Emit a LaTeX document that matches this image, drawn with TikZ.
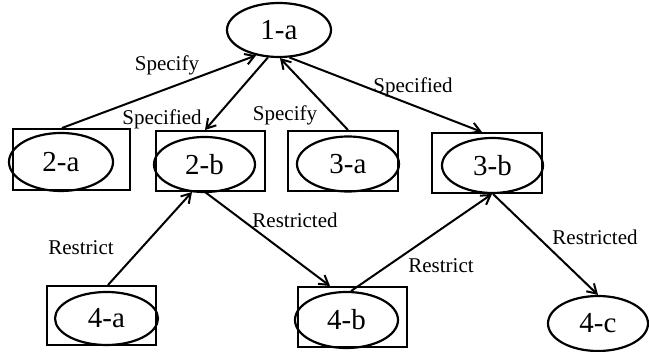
\documentclass[tikz,border=0pt]{standalone}
\usepackage{fontspec}
\setmainfont{Liberation Serif}
\usetikzlibrary{arrows.meta,shapes.geometric}
\begin{document}
\begin{tikzpicture}[x=1pt,y=-1pt,
  oval/.style={draw, ellipse, line width=2.2pt, inner sep=0pt,
    minimum width=101pt, minimum height=55pt,
    font=\fontsize{29}{32}\selectfont},
  frame/.style={draw, rectangle, line width=2pt, inner sep=0pt,
    minimum width=110pt, minimum height=60pt},
  link/.style={line width=2pt, -{Straight Barb[length=9pt,width=11pt]}},
  lbl/.style={inner sep=0pt, font=\fontsize{21}{24}\selectfont}]

\useasboundingbox (0,0) rectangle (649,352);

% top element
\node[oval, minimum width=104pt, minimum height=54pt] (n1a) at (279,30) {1-a};

% second row: framed elements
\node[frame, minimum width=117pt, minimum height=61pt] (b2a) at (71.5,159.5) {};
\node[oval, minimum width=104pt, minimum height=58pt] (n2a) at (61,162) {2-a};

\node[frame, minimum width=109pt] (b2b) at (210.5,161) {};
\node[oval] (n2b) at (204.5,164.5) {2-b};

\node[frame] (b3a) at (343,161) {};
\node[oval, minimum width=102pt] (n3a) at (348,164) {3-a};

\node[frame] (b3b) at (487,163) {};
\node[oval] (n3b) at (492.5,165.5) {3-b};

% bottom row
\node[frame, minimum width=109pt, minimum height=59pt] (b4a) at (101.5,315.5) {};
\node[oval, minimum width=103pt, minimum height=53pt] (n4a) at (106.5,318.5) {4-a};

\node[frame, minimum width=109pt] (b4b) at (352.5,317) {};
\node[oval, minimum width=103pt, minimum height=56pt] (n4b) at (346.5,320) {4-b};

\node[oval, minimum width=100pt] (n4c) at (598,323.5) {4-c};

% connectors
\draw[link] ([xshift=-9.5pt]b2a.north) -- (n1a.228);
\draw[link] (n1a.248) -- ([xshift=-5.5pt]b2b.north);
\draw[link] ([xshift=5pt]b3a.north) -- (n1a.272);
\draw[link] (n1a.291) -- ([xshift=-5pt]b3b.north);
\draw[link] ([xshift=6.5pt]b4a.north) -- ([xshift=-18.5pt]b2b.south);
\draw[link] ([xshift=-5.5pt]b2b.south) -- ([xshift=-22.5pt]b4b.north);
\draw[link] (n4b.81) -- ([xshift=5pt]b3b.south);
\draw[link] ([xshift=6pt]b3b.south) -- (n4c.north);

% connector labels
\node[lbl] (l1) at (167,65) {Specify};
\node[lbl] (l2) at (162,119) {Specified};
\node[lbl] (l3) at (285,115) {Specify};
\node[lbl] (l4) at (413,87) {Specified};
\node[lbl] (l5) at (81,248) {Restrict};
\node[lbl] (l6) at (295,220) {Restricted};
\node[lbl] (l7) at (441,266) {Restrict};
\node[lbl] (l8) at (595,237) {Restricted};
\end{tikzpicture}
\end{document}
